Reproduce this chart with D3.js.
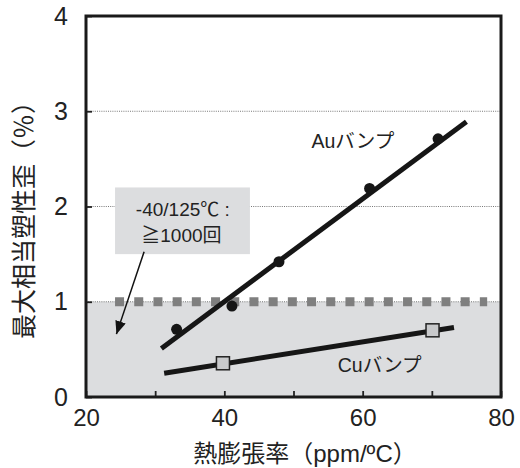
<!DOCTYPE html>
<html lang="ja">
<head>
<meta charset="utf-8">
<script src="https://d3js.org/d3.v7.min.js"></script>
<style>
  body { margin: 0; background: #fff; }
  text { font-family: "Liberation Sans", Arial, "Noto Sans CJK JP", sans-serif; fill: #222; }
  .title { text-spacing-trim: space-all; font-feature-settings: "fwid" 1; }
</style>
</head>
<body>
<script>
// data
var auCte = [33.1, 41.1, 47.9, 61.0, 70.9];
var auStrain = [0.71, 0.955, 1.42, 2.19, 2.71];
var cuCte = [39.8, 70.1];
var cuStrain = [0.354, 0.70];
// fitted lines (start / end)
var auFit = [[30.9, 0.51], [75.0, 2.89]];
var cuFit = [[31.3, 0.25], [73.2, 0.73]];
var limit = 1.0;           // 1000 cycle line
var xTicks = [20, 30, 40, 50, 60, 70, 80];
var yTicks = [0, 1, 2, 3, 4];
var gridLines = [1, 2, 3];

var w = 520, h = 468;
var pLeft = 86, pRight = 501, pTop = 16, pBottom = 397;

var x = d3.scaleLinear().domain([20, 80]).range([pLeft, pRight]);
var y = d3.scaleLinear().domain([0, 4]).range([pBottom, pTop]);

var svg = d3.select("body").append("svg")
  .attr("width", w).attr("height", h);

// shaded region under 1%
svg.append("rect")
  .attr("x", x(20)).attr("y", y(limit))
  .attr("width", x(80) - x(20)).attr("height", y(0) - y(limit))
  .attr("fill", "#dcdddf");

// dotted grid
svg.selectAll(".grid").data(gridLines).enter().append("line")
  .attr("x1", x(20)).attr("x2", x(80))
  .attr("y1", d => y(d)).attr("y2", d => y(d))
  .attr("stroke", "#555").attr("stroke-width", 0.8)
  .attr("stroke-dasharray", "1,1.2");

// thick square-dashed line at 1%
svg.append("line")
  .attr("x1", x(24.2)).attr("x2", x(78))
  .attr("y1", y(limit)).attr("y2", y(limit))
  .attr("stroke", "#7f7f7f").attr("stroke-width", 9)
  .attr("stroke-dasharray", "9,10.2");

// annotation box
svg.append("rect")
  .attr("x", x(24.2)).attr("y", y(2.2))
  .attr("width", x(43.7) - x(24.2)).attr("height", y(1.5) - y(2.2))
  .attr("fill", "#dcdddf");
svg.append("text").attr("x", x(34)).attr("y", y(1.905))
  .attr("text-anchor", "middle").attr("font-size", 19).text("-40/125℃ :");
svg.append("text").attr("x", x(33.8)).attr("y", y(1.63))
  .attr("text-anchor", "middle").attr("font-size", 19).text("≧1000回");

svg.append("defs").append("marker")
  .attr("id", "arr").attr("markerUnits", "userSpaceOnUse")
  .attr("viewBox", "0 0 12 10").attr("refX", 12).attr("refY", 5)
  .attr("markerWidth", 13).attr("markerHeight", 11).attr("orient", "auto")
  .append("path").attr("d", "M0,0L12,5L0,10Z").attr("fill", "#111");
svg.append("line")
  .attr("x1", x(28.4)).attr("y1", y(1.525))
  .attr("x2", x(24.4)).attr("y2", y(0.66))
  .attr("stroke", "#111").attr("stroke-width", 1.5)
  .attr("marker-end", "url(#arr)");

// fit lines
var line = d3.line().x(d => x(d[0])).y(d => y(d[1]));
[auFit, cuFit].forEach(function (f) {
  svg.append("path").attr("d", line(f))
    .attr("fill", "none").attr("stroke", "#161616").attr("stroke-width", 5);
});

// markers
svg.selectAll(".au").data(auCte).enter().append("circle")
  .attr("cx", d => x(d)).attr("cy", (d, i) => y(auStrain[i]))
  .attr("r", 5.5).attr("fill", "#161616");
svg.selectAll(".cu").data(cuCte).enter().append("rect")
  .attr("x", d => x(d) - 6.5).attr("y", (d, i) => y(cuStrain[i]) - 6.5)
  .attr("width", 13).attr("height", 13)
  .attr("fill", "#c8c9cb").attr("stroke", "#222").attr("stroke-width", 1.5);

// series labels
svg.append("text").attr("x", x(52.6)).attr("y", y(2.61))
  .attr("font-size", 19.5).text("Auバンプ");
svg.append("text").attr("x", x(56.4)).attr("y", y(0.26))
  .attr("font-size", 19.5).text("Cuバンプ");

// axes
var xAxis = svg.append("g").attr("transform", "translate(0," + pBottom + ")")
  .call(d3.axisBottom(x).tickValues(xTicks)
    .tickFormat(d => d % 20 === 0 ? d : "")
    .tickSizeInner(-6).tickSizeOuter(0).tickPadding(12));
var yAxis = svg.append("g").attr("transform", "translate(" + pLeft + ",0)")
  .call(d3.axisLeft(y).tickValues(yTicks).tickFormat(d3.format("d"))
    .tickSizeInner(-6).tickSizeOuter(0).tickPadding(18));
[xAxis, yAxis].forEach(function (g) {
  g.select(".domain").remove();
  g.selectAll(".tick line").attr("stroke", "#222").attr("stroke-width", 1.8);
  g.selectAll(".tick text").attr("fill", "#222").style("font-family", "'Liberation Sans', Arial, sans-serif");
});
xAxis.selectAll(".tick text").attr("font-size", 24);
yAxis.selectAll(".tick text").attr("font-size", 25);

// frame
svg.append("rect")
  .attr("x", pLeft).attr("y", pTop)
  .attr("width", pRight - pLeft).attr("height", pBottom - pTop)
  .attr("fill", "none").attr("stroke", "#1a1a1a").attr("stroke-width", 3);

// axis titles
svg.append("text").attr("class", "title").attr("x", 305).attr("y", 462)
  .attr("text-anchor", "middle").attr("font-size", 24)
  .text("熱膨張率（ppm/ºC）");
svg.append("text").attr("class", "title")
  .attr("transform", "translate(33," + 214 + ") rotate(-90)")
  .attr("text-anchor", "middle").attr("font-size", 25)
  .style("font-family", "'Noto Sans CJK JP', sans-serif")
  .text("最大相当塑性歪（%）");
</script>
</body>
</html>
